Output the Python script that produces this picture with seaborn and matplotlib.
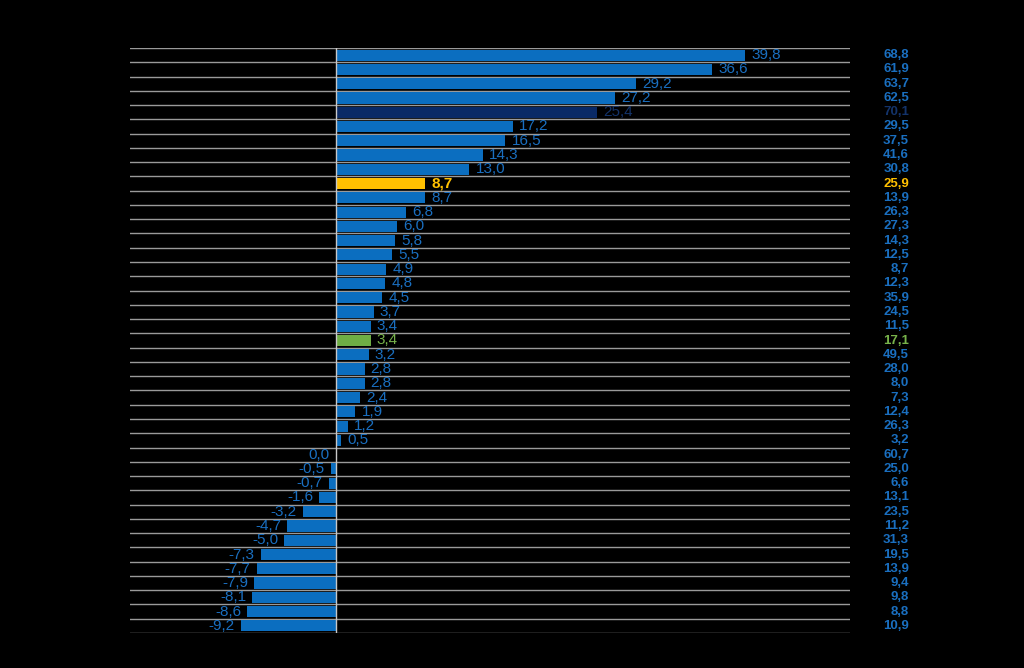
import pandas as pd
import matplotlib.pyplot as plt
import matplotlib.transforms as mtransforms
import seaborn as sns

# wartosci slupkow (zmiana) i kolumna po prawej
values = [39.8, 36.6, 29.2, 27.2, 25.4, 17.2, 16.5, 14.3, 13.0, 8.7,
          8.7, 6.8, 6.0, 5.8, 5.5, 4.9, 4.8, 4.5, 3.7, 3.4,
          3.4, 3.2, 2.8, 2.8, 2.4, 1.9, 1.2, 0.5, 0.0, -0.5,
          -0.7, -1.6, -3.2, -4.7, -5.0, -7.3, -7.7, -7.9, -8.1, -8.6,
          -9.2]
right_vals = [68.8, 61.9, 63.7, 62.5, 70.1, 29.5, 37.5, 41.6, 30.8, 25.9,
              13.9, 26.3, 27.3, 14.3, 12.5, 8.7, 12.3, 35.9, 24.5, 11.5,
              17.1, 49.5, 28.0, 8.0, 7.3, 12.4, 26.3, 3.2, 60.7, 25.0,
              6.6, 13.1, 23.5, 11.2, 31.3, 19.5, 13.9, 9.4, 9.8, 8.8,
              10.9]
groups = ["base"] * 41
groups[4] = "dark"
groups[9] = "highlight"
groups[20] = "green"
categories = [f"k{i + 1}" for i in range(len(values))]

palette = {"base": "#0B6EC0", "dark": "#0A2A66", "highlight": "#FFC000", "green": "#6FAE45"}
text_col = {"base": "#1A6FC0", "dark": "#13336A", "highlight": "#FFC000", "green": "#77B24A"}

df = pd.DataFrame({"kat": categories, "val": values, "prawo": right_vals, "grupa": groups})

fig = plt.figure(figsize=(10.24, 6.68), dpi=100, facecolor="black")
ax = fig.add_axes([130 / 1024, 1 - 633 / 668, 720 / 1024, 585 / 668])
ax.set_facecolor("black")

sns.barplot(data=df, y="kat", x="val", hue="grupa", palette=palette, orient="h",
            width=0.78, dodge=False, legend=False, ax=ax, saturation=1)

ax.set_xlim(-20, 50)
ax.set_ylim(len(values) - 0.5, -0.5)
for i in range(len(values) + 1):
    ax.axhline(i - 0.5, color="#9A9A9A", lw=1.0, zorder=0)
ax.axvline(0, color="#C8C8C8", lw=1.0, zorder=3)

for s in ax.spines.values():
    s.set_visible(False)
ax.set_xticks([])
ax.set_yticks([])
ax.set_xlabel("")
ax.set_ylabel("")

plt.rcParams['font.family'] = ['Liberation Sans', 'DejaVu Sans']
trans = mtransforms.blended_transform_factory(ax.transAxes, ax.transData)
for i, row in df.iterrows():
    c = text_col[row["grupa"]]
    fw = "bold" if row["grupa"] == "highlight" else "normal"
    lab = f"{row['val']:.1f}".replace(".", ",")
    if row["val"] > 0:
        ax.text(row["val"] + 0.6, i, lab, ha="left", va="center", color=c,
                fontsize=11, fontweight=fw, family=['Liberation Sans'])
    else:
        ax.text(row["val"] - 0.6, i, lab, ha="right", va="center", color=c,
                fontsize=11, fontweight=fw, family=['Liberation Sans'])
    ax.text(1.082, i, f"{row['prawo']:.1f}".replace(".", ","), transform=trans,
            ha="right", va="center", color=c, fontsize=9.5, fontweight="bold",
            family=['Liberation Sans'])

fig.savefig("out.png", dpi=100, facecolor="black")
